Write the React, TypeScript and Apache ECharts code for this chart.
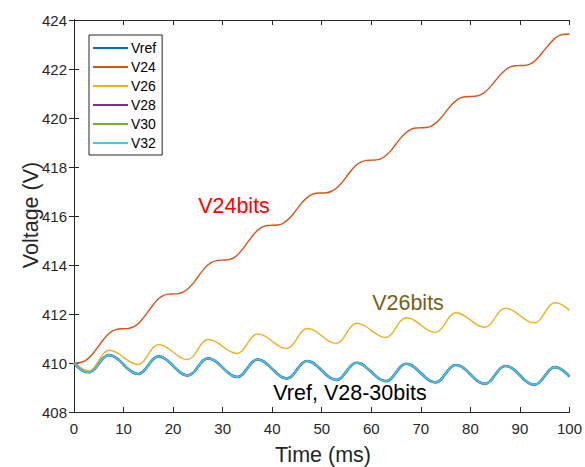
import React, { useEffect, useRef } from "react";
import * as echarts from "echarts";

const FONT = "'Liberation Sans', Arial, Helvetica, sans-serif";

// time axis samples (ms)
const time: number[] = Array.from({ length: 101 }, (_, i) => i);

const vref = [
  410.00, 409.80, 409.66, 409.62, 409.72, 409.97, 410.22, 410.32, 410.27, 410.13, 409.94,
  409.74, 409.60, 409.55, 409.66, 409.91, 410.16, 410.27, 410.22, 410.08, 409.88,
  409.69, 409.54, 409.49, 409.59, 409.84, 410.09, 410.19, 410.14, 410.00, 409.81,
  409.62, 409.48, 409.43, 409.53, 409.79, 410.04, 410.14, 410.09, 409.95, 409.76,
  409.56, 409.42, 409.37, 409.47, 409.73, 409.98, 410.08, 410.03, 409.89, 409.70,
  409.50, 409.36, 409.31, 409.41, 409.66, 409.91, 410.01, 409.96, 409.82, 409.64,
  409.45, 409.31, 409.26, 409.36, 409.62, 409.87, 409.97, 409.92, 409.78, 409.59,
  409.40, 409.26, 409.21, 409.31, 409.57, 409.82, 409.92, 409.87, 409.73, 409.54,
  409.34, 409.20, 409.15, 409.26, 409.52, 409.77, 409.88, 409.83, 409.69, 409.50,
  409.30, 409.16, 409.11, 409.22, 409.47, 409.72, 409.83, 409.78, 409.64, 409.45,
];

const v24 = [
  410.00, 410.01, 410.07, 410.21, 410.43, 410.70, 410.97, 411.19, 411.33, 411.39, 411.40,
  411.41, 411.47, 411.61, 411.84, 412.11, 412.38, 412.61, 412.75, 412.81, 412.82,
  412.83, 412.89, 413.03, 413.24, 413.51, 413.78, 414.00, 414.13, 414.19, 414.20,
  414.21, 414.27, 414.41, 414.64, 414.91, 415.18, 415.41, 415.55, 415.61, 415.62,
  415.63, 415.68, 415.82, 416.02, 416.28, 416.54, 416.74, 416.88, 416.93, 416.94,
  416.95, 417.01, 417.14, 417.35, 417.61, 417.87, 418.08, 418.21, 418.27, 418.28,
  418.29, 418.34, 418.48, 418.68, 418.94, 419.20, 419.40, 419.54, 419.59, 419.60,
  419.61, 419.66, 419.79, 419.99, 420.24, 420.49, 420.69, 420.82, 420.87, 420.88,
  420.89, 420.94, 421.07, 421.27, 421.51, 421.75, 421.95, 422.08, 422.13, 422.14,
  422.15, 422.20, 422.33, 422.54, 422.79, 423.03, 423.24, 423.37, 423.42, 423.43,
];

const v26 = [
  410.00, 409.87, 409.73, 409.68, 409.80, 410.10, 410.40, 410.52, 410.48, 410.38, 410.23,
  410.09, 409.98, 409.94, 410.06, 410.35, 410.63, 410.75, 410.71, 410.60, 410.45,
  410.29, 410.18, 410.14, 410.26, 410.55, 410.84, 410.96, 410.92, 410.82, 410.68,
  410.53, 410.43, 410.39, 410.51, 410.79, 411.07, 411.19, 411.15, 411.04, 410.89,
  410.74, 410.63, 410.59, 410.71, 411.00, 411.29, 411.41, 411.37, 411.26, 411.11,
  410.95, 410.84, 410.80, 410.92, 411.21, 411.50, 411.62, 411.58, 411.48, 411.33,
  411.19, 411.08, 411.04, 411.16, 411.45, 411.73, 411.85, 411.81, 411.70, 411.55,
  411.40, 411.29, 411.25, 411.37, 411.65, 411.93, 412.05, 412.01, 411.90, 411.76,
  411.61, 411.50, 411.46, 411.57, 411.85, 412.13, 412.24, 412.20, 412.09, 411.94,
  411.79, 411.68, 411.64, 411.76, 412.05, 412.34, 412.46, 412.42, 412.31, 412.16,
];

// V28, V30 and V32 overlap Vref in the picture
const v28 = vref;
const v30 = vref;
const v32 = vref;

const seriesNames = ["Vref", "V24", "V26", "V28", "V30", "V32"];
const seriesValues = [vref, v24, v26, v28, v30, v32];
const seriesColors = ["#0072BD", "#D95319", "#EDB120", "#7E2F8E", "#77AC30", "#4DBEEE"];
const seriesWidths = [2.6, 1.4, 1.4, 1.4, 1.4, 1.6];

const xTicks = { min: 0, max: 100, interval: 10 };
const yTicks = { min: 408, max: 424, interval: 2 };

const annotations = [
  { text: "V24bits", x: 234, y: 206, color: "#FF0000" },
  { text: "V26bits", x: 408, y: 303, color: "#7A5F17" },
  { text: "Vref, V28-30bits", x: 350, y: 393, color: "#000000" },
];

const AX = "#262626";
const TITLE_FONT = `21.5px ${FONT}`;

export default function App() {
  const ref = useRef<HTMLDivElement>(null);
  useEffect(() => {
    if (!ref.current) return;
    const chart = echarts.init(ref.current, undefined, { renderer: "svg" });
    const axisCommon = {
      axisLine: { show: true, lineStyle: { color: AX, width: 1 } },
      axisTick: { show: true, inside: true, length: 5, lineStyle: { color: AX } },
      splitLine: { show: false },
    };
    chart.setOption({
      animation: false,
      backgroundColor: "#ffffff",
      textStyle: { fontFamily: FONT },
      grid: { left: 74, right: 13, top: 20, bottom: 55, containLabel: false },
      legend: {
        orient: "vertical",
        left: 89,
        top: 35,
        data: seriesNames,
        icon: "rect",
        itemWidth: 35,
        itemHeight: 2,
        itemGap: 5,
        padding: [6, 6, 5, 4],
        backgroundColor: "#ffffff",
        borderColor: AX,
        borderWidth: 1,
        borderRadius: 0,
        textStyle: {
          fontFamily: FONT,
          fontSize: 14,
          lineHeight: 14,
          color: "#000000",
          padding: [0, 0, 0, -2],
        },
      },
      xAxis: [
        {
          type: "value",
          ...xTicks,
          ...axisCommon,
          axisLabel: { color: AX, fontSize: 15, margin: 9, fontFamily: FONT },
        },
        {
          type: "value",
          position: "top",
          ...xTicks,
          ...axisCommon,
          axisLabel: { show: false },
        },
      ],
      yAxis: [
        {
          type: "value",
          ...yTicks,
          ...axisCommon,
          axisLabel: { color: AX, fontSize: 15, margin: 7, fontFamily: FONT },
        },
        {
          type: "value",
          position: "right",
          ...yTicks,
          ...axisCommon,
          axisLabel: { show: false },
        },
      ],
      series: seriesNames.map((name, i) => ({
        name,
        type: "line",
        xAxisIndex: 0,
        yAxisIndex: 0,
        symbol: "none",
        smooth: 0.3,
        color: seriesColors[i],
        lineStyle: { color: seriesColors[i], width: seriesWidths[i] },
        data: time.map((t, k) => [t, seriesValues[i][k]]),
        z: 2 + i,
      })),
      graphic: [
        ...annotations.map((a) => ({
          type: "text",
          x: a.x,
          y: a.y,
          z: 100,
          style: {
            text: a.text,
            fill: a.color,
            font: TITLE_FONT,
            textAlign: "center",
            textVerticalAlign: "middle",
          },
        })),
        {
          type: "text",
          x: 323,
          y: 455,
          style: {
            text: "Time (ms)",
            fill: AX,
            font: TITLE_FONT,
            textAlign: "center",
            textVerticalAlign: "middle",
          },
        },
        {
          type: "text",
          x: 31,
          y: 215,
          rotation: Math.PI / 2,
          style: {
            text: "Voltage (V)",
            fill: AX,
            font: TITLE_FONT,
            textAlign: "center",
            textVerticalAlign: "middle",
          },
        },
      ],
    });
    return () => chart.dispose();
  }, []);
  return (
    <div
      ref={ref}
      style={{ position: "fixed", left: 0, top: 0, width: 585, height: 467 }}
    />
  );
}
